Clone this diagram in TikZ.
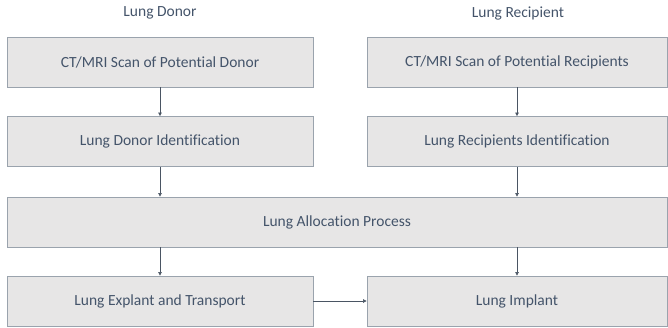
\documentclass[tikz,border=0pt]{standalone}
\usepackage{fontspec}
\setmainfont[Ligatures=NoCommon]{Carlito}
\usetikzlibrary{arrows.meta}
\definecolor{boxfill}{HTML}{E7E6E6}
\definecolor{boxline}{HTML}{9AA3AD}
\definecolor{txt}{HTML}{44546A}
\definecolor{arr}{HTML}{4A5563}
\begin{document}
\begin{tikzpicture}[x=1pt, y=-1pt,
    stagebox/.style={draw=boxline, fill=boxfill, line width=0.8pt,
        minimum height=50pt, inner sep=0pt, text=txt,
        font=\fontsize{15.5}{18}\selectfont},
    header/.style={text=txt, font=\fontsize{15.5}{18}\selectfont},
    flow/.style={draw=arr, line width=0.6pt, -{Triangle[length=3.5pt, width=3.5pt]}}]
    \useasboundingbox (0,0) rectangle (668,327);
    % column titles
    \node [header] (donor) at (160,13) {Lung Donor};
    \node [header] (recip) at (518,13) {Lung Recipient};
    % boxes
    \node [stagebox, minimum width=306pt] (dscan) at (160,62)
        {CT/MRI Scan of Potential Donor};
    \node [stagebox, minimum width=300pt] (rscan) at (517,62)
        {CT/MRI Scan of Potential Recipients};
    \node [stagebox, minimum width=306pt] (did) at (160,141.5)
        {Lung Donor Identification};
    \node [stagebox, minimum width=300pt] (rid) at (517,141.5)
        {Lung Recipients Identification};
    \node [stagebox, minimum width=660pt] (alloc) at (337,222)
        {Lung Allocation Process};
    \node [stagebox, minimum width=306pt] (expl) at (160,301)
        {Lung Explant and Transport};
    \node [stagebox, minimum width=300pt] (impl) at (517,301)
        {Lung Implant};
    % arrows
    \draw [flow] (dscan) -- (did);
    \draw [flow] (rscan) -- (rid);
    \draw [flow] (did) -- (did |- alloc.north);
    \draw [flow] (rid) -- (rid |- alloc.north);
    \draw [flow] (alloc.south -| expl) -- (expl);
    \draw [flow] (alloc.south -| impl) -- (impl);
    \draw [flow] (expl) -- (impl);
\end{tikzpicture}
\end{document}
